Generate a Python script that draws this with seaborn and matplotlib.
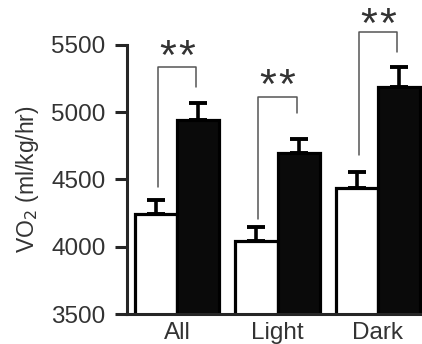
import numpy as np
import pandas as pd
import matplotlib
matplotlib.use("Agg")
import matplotlib.pyplot as plt
import matplotlib.transforms as mtransforms
import seaborn as sns

# ---- data ----
periods = ["All", "Light", "Dark"]
groups = ["Control", "KO"]
vo2_control = [4245, 4040, 4440]
vo2_ko = [4940, 4700, 5185]
sem_control = [100, 105, 115]
sem_ko = [130, 100, 150]

# significance brackets: (left foot, right foot, top) and star centre height
bracket_left = [4441, 4204, 4685]
bracket_right = [5189, 4996, 5448]
bracket_top = [5337, 5115, 5596]
star_y = [5458, 5238, 5693]

yticks = [3500, 4000, 4500, 5000, 5500]

df = pd.DataFrame({
    "Period": periods * 2,
    "Group": [groups[0]] * 3 + [groups[1]] * 3,
    "VO2": vo2_control + vo2_ko,
})

# ---- style ----
sns.set_style("ticks")
plt.rcParams["font.family"] = ["Liberation Sans", "DejaVu Sans"]
plt.rcParams["axes.linewidth"] = 2.2

fig = plt.figure(figsize=(4.22, 3.44), dpi=100)
ax = fig.add_axes([0.301, 0.0872, 0.699, 0.7820])

sns.barplot(data=df, x="Period", y="VO2", hue="Group", order=periods,
            hue_order=groups, palette={"Control": "white", "KO": "#0a0a0a"},
            width=0.84, gap=0, edgecolor="black", linewidth=2.3,
            errorbar=None, legend=False, ax=ax, zorder=2)

# upper-only error bars, centred on the seaborn bars
sems = [sem_control, sem_ko]
vals = [vo2_control, vo2_ko]
centers = []
for cont, v, e in zip(ax.containers, vals, sems):
    xs = [p.get_x() + p.get_width() / 2 for p in cont.patches]
    centers.append(xs)
    ax.errorbar(xs, v, yerr=[np.zeros(len(e)), e], fmt="none",
                ecolor="black", elinewidth=2.6, capsize=6.8, capthick=2.8,
                zorder=1, clip_on=False)

# significance brackets + stars (two asterisks, spaced a little apart)
star_size = 31
for i in range(len(periods)):
    xl, xr = centers[0][i] + 0.02, centers[1][i] - 0.02
    ax.plot([xl, xl, xr, xr],
            [bracket_left[i], bracket_top[i], bracket_top[i], bracket_right[i]],
            color="#555555", lw=1.1, clip_on=False, zorder=3)
    for dx in (-0.095, 0.095):
        shift = mtransforms.ScaledTranslation(dx, -0.42 * star_size / 72,
                                              fig.dpi_scale_trans)
        ax.text(i, star_y[i], "*", ha="center", va="baseline",
                fontsize=star_size, color="#333333", clip_on=False,
                transform=ax.transData + shift)

ax.set_ylim(3500, 5500)
ax.set_xlim(-0.5, 2.44)
ax.set_yticks(yticks)
ax.set_yticklabels([str(t) for t in yticks])
ax.set_xlabel("")
ax.set_ylabel("VO$_2$ (ml/kg/hr)", fontsize=16.5, color="#333333", labelpad=7)

ax.tick_params(axis="y", length=8.5, width=2.2, pad=7, labelsize=17.5,
               labelcolor="#333333", direction="out")
ax.tick_params(axis="x", length=0, pad=6, labelsize=17.5, labelcolor="#333333")
sns.despine(ax=ax, top=True, right=True)

fig.savefig("out.png", dpi=100)
